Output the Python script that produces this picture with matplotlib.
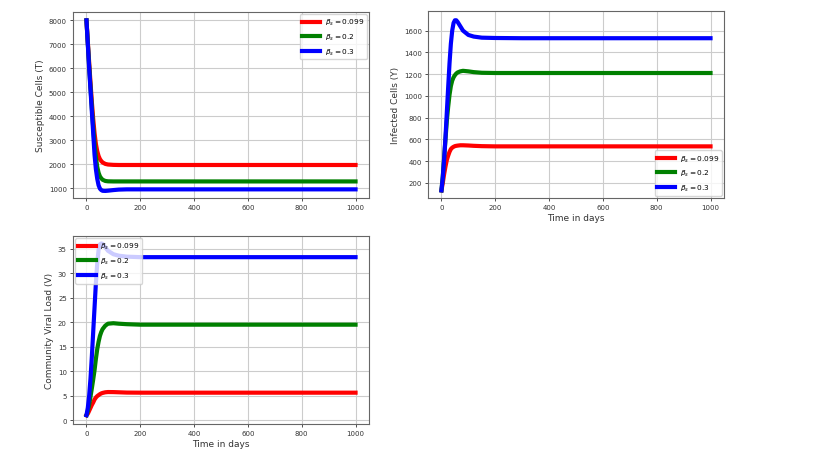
import matplotlib
matplotlib.use("Agg")
import matplotlib.pyplot as plt

# time points (days)
t = [0, 5, 10, 15, 20, 25, 30, 35, 40, 45, 50, 55, 60, 70, 80, 100, 120, 150, 200, 300, 500, 1000]

labels = [r"$\beta_s = 0.099$", r"$\beta_s = 0.2$", r"$\beta_s = 0.3$"]
colors = ["red", "green", "blue"]

# Susceptible cells T
T_red = [8000, 7100, 6250, 5400, 4600, 3900, 3300, 2850, 2550, 2350, 2220, 2140, 2080, 2020, 1995, 1980, 1975, 1975, 1975, 1975, 1975, 1975]
T_green = [8000, 7050, 6100, 5200, 4350, 3550, 2850, 2300, 1900, 1650, 1500, 1420, 1360, 1310, 1295, 1290, 1290, 1290, 1290, 1290, 1290, 1290]
T_blue = [8000, 7000, 6000, 5100, 4200, 3300, 2400, 1800, 1400, 1130, 990, 930, 900, 895, 905, 930, 950, 960, 960, 960, 960, 960]

# Infected cells Y
Y_red = [130, 200, 280, 350, 410, 450, 485, 510, 523, 531, 537, 540, 542, 545, 545, 543, 540, 537, 535, 535, 535, 535]
Y_green = [130, 260, 430, 600, 770, 900, 1010, 1090, 1140, 1170, 1190, 1205, 1215, 1225, 1230, 1225, 1218, 1212, 1210, 1210, 1210, 1210]
Y_blue = [130, 250, 420, 620, 850, 1080, 1300, 1480, 1600, 1670, 1695, 1695, 1680, 1640, 1600, 1560, 1545, 1535, 1532, 1530, 1530, 1530]

# Community viral load V
V_red = [1, 1.3, 1.9, 2.5, 3.1, 3.6, 4.2, 4.6, 4.9, 5.1, 5.3, 5.45, 5.55, 5.68, 5.73, 5.72, 5.68, 5.62, 5.6, 5.6, 5.6, 5.6]
V_green = [1, 1.8, 3.2, 4.8, 6.5, 8.3, 10.2, 12.5, 14.5, 16.0, 17.2, 18.0, 18.6, 19.3, 19.7, 19.8, 19.7, 19.6, 19.5, 19.5, 19.5, 19.5]
V_blue = [1, 2.5, 5, 8.5, 13, 18, 23, 28, 32, 34.8, 35.9, 36.1, 36.0, 35.3, 34.6, 33.9, 33.6, 33.4, 33.3, 33.3, 33.3, 33.3]

fig = plt.figure(figsize=(8.14, 4.56), dpi=100)
fig.patch.set_facecolor("white")

positions = [
    [0.0897, 0.5636, 0.3636, 0.408],
    [0.5258, 0.5636, 0.3636, 0.410],
    [0.0897, 0.068, 0.3636, 0.412],
]
series = [
    (T_red, T_green, T_blue),
    (Y_red, Y_green, Y_blue),
    (V_red, V_green, V_blue),
]
ylabels = ["Susceptible Cells (T)", "Infected Cells (Y)", "Community Viral Load (V)"]
xlabels = [None, "Time in days", "Time in days"]
legend_locs = ["upper right", "lower right", "upper left"]

for pos, ser, yl, xl, loc in zip(positions, series, ylabels, xlabels, legend_locs):
    ax = fig.add_axes(pos)
    for vals, c, lab in zip(ser, colors, labels):
        ax.plot(t, vals, color=c, lw=3, label=lab)
    ax.grid(True, color="#cccccc", linewidth=0.8)
    ax.set_axisbelow(True)
    ax.set_ylabel(yl, fontsize=6.5, color="#333333", labelpad=3)
    if xl:
        ax.set_xlabel(xl, fontsize=6.5, color="#333333", labelpad=2)
    ax.set_xticks([0, 200, 400, 600, 800, 1000])
    ax.tick_params(labelsize=5, colors="#333333", length=2.5, width=0.6, pad=2)
    for s in ax.spines.values():
        s.set_color("#666666")
        s.set_linewidth(0.8)
    ax.legend(loc=loc, prop={"size": 5.3}, handlelength=2.4, framealpha=0.8,
              borderpad=0.4, labelspacing=0.6, borderaxespad=0.3, handletextpad=0.6)

fig.axes[0].set_ylim(600, 8350)
fig.axes[0].set_yticks([1000, 2000, 3000, 4000, 5000, 6000, 7000, 8000])
fig.axes[1].set_ylim(60, 1780)
fig.axes[1].set_yticks([200, 400, 600, 800, 1000, 1200, 1400, 1600])
fig.axes[2].set_ylim(-0.8, 37.6)
fig.axes[2].set_yticks([0, 5, 10, 15, 20, 25, 30, 35])
for ax in fig.axes:
    ax.set_xlim(-50, 1050)

fig.savefig("out.png", dpi=100)
